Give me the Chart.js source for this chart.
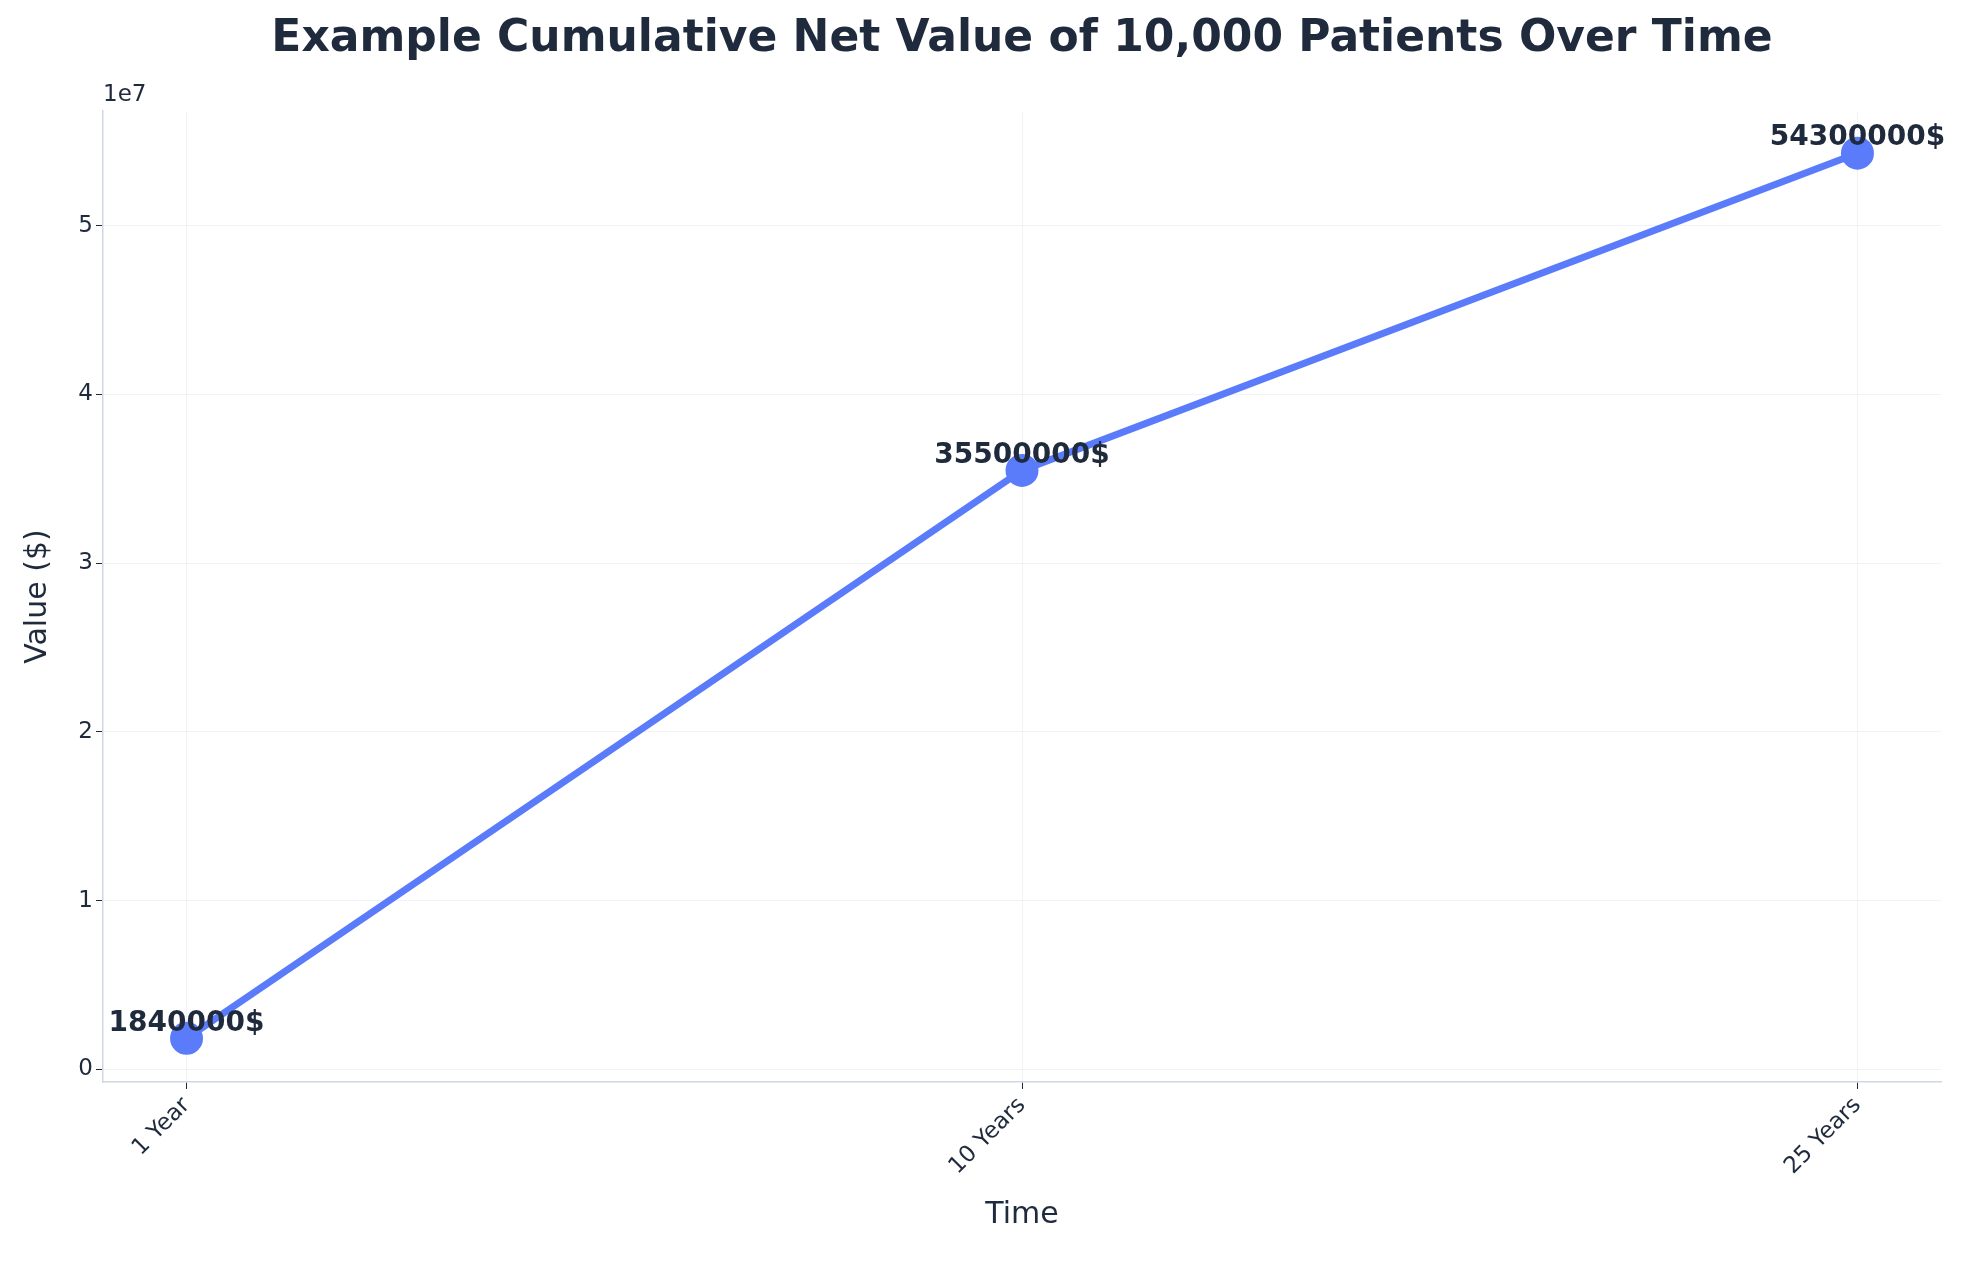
<!DOCTYPE html>
<html><head><script src="https://cdn.jsdelivr.net/npm/chart.js@4"></script>
<style>html,body{margin:0;padding:0;background:#fff}#w{width:1964px;height:1267px}</style></head>
<body><div id="w"><canvas id="c"></canvas></div>
<script>
const categories = ["1 Year","10 Years","25 Years"];
const values = [1840000,35500000,54300000];
const labels = ["1840000$","35500000$","54300000$"];
const ink = "#1f2a3c";
const font = "'DejaVu Sans'";
const extras = {
  id:"extras",
  afterDatasetsDraw(chart){
    const ctx=chart.ctx, m=chart.getDatasetMeta(0);
    ctx.save();
    ctx.fillStyle=ink; ctx.textAlign="center"; ctx.textBaseline="bottom";
    ctx.font="bold 28px "+font;
    m.data.forEach((p,i)=>ctx.fillText(labels[i],p.x,p.y-1));
    ctx.font="bold 44px "+font; ctx.textBaseline="middle";
    ctx.fillText("Example Cumulative Net Value of 10,000 Patients Over Time",1022,40);
    ctx.font="23px "+font; ctx.textAlign="left"; ctx.textBaseline="bottom";
    ctx.fillText("1e7",chart.chartArea.left,chart.chartArea.top-4);
    ctx.restore();
  }
};
new Chart(document.getElementById("c"),{
  type:"line",
  data:{datasets:[{data:values.map((v,i)=>({x:i,y:v})),borderColor:"#5b7cfa",backgroundColor:"#5b7cfa",borderWidth:7,pointRadius:13,pointHoverRadius:13}]},
  options:{responsive:true,maintainAspectRatio:false,animation:false,
    layout:{padding:{top:111,right:23,left:16,bottom:30}},
    plugins:{legend:{display:false},tooltip:{enabled:false}},
    scales:{
      x:{type:"linear",min:-0.1,max:2.1,afterFit(s){s.height=155;},
        afterBuildTicks(s){s.ticks=categories.map((c,i)=>({value:i}));},
        ticks:{callback:(v)=>categories[v],color:ink,font:{family:font,size:23},maxRotation:45,minRotation:45},
        grid:{color:"rgba(200,210,225,0.25)",tickColor:ink,tickLength:7},
        border:{color:"#d0d8e4",width:1.5},
        title:{display:true,text:"Time",color:ink,font:{family:font,size:30},padding:{top:4}}},
      y:{min:-750000,max:56800000,afterFit(s){s.width=87;},
        afterBuildTicks(s){s.ticks=[0,1,2,3,4,5].map(v=>({value:v*1e7}));},
        ticks:{callback:(v)=>String(v/1e7),color:ink,font:{family:font,size:23}},
        grid:{color:"rgba(200,210,225,0.25)",tickColor:ink,tickLength:7},
        border:{color:"#d0d8e4",width:1.5},
        title:{display:true,text:"Value ($)",color:ink,font:{family:font,size:30}}}
    }},
  plugins:[extras]
});
</script></body></html>
